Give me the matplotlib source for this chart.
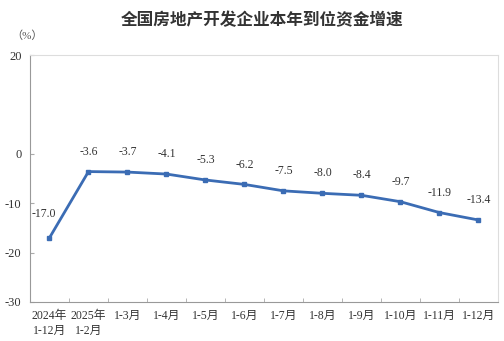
import matplotlib.pyplot as plt

plt.rcParams['font.family'] = ['Liberation Serif', 'Noto Sans CJK SC']

labels = ['2024年\n1-12月', '2025年\n1-2月', '1-3月', '1-4月', '1-5月', '1-6月',
          '1-7月', '1-8月', '1-9月', '1-10月', '1-11月', '1-12月']
values = [-17.0, -3.6, -3.7, -4.1, -5.3, -6.2, -7.5, -8.0, -8.4, -9.7, -11.9, -13.4]
yticks = [20, 0, -10, -20, -30]

fig = plt.figure(figsize=(5.04, 3.41), dpi=100)
ax = fig.add_axes([0.0595, 0.1144, 0.9285, 0.7243])

x = list(range(len(values)))
ax.plot(x, values, color='#3b6cb4', linewidth=2, marker='s', markersize=3.5)

for i, v in enumerate(values):
    dy = 10 if i > 0 else 13
    dx = -4 if i == 0 else 0
    ax.annotate(f'{v:.1f}', (i, v), xytext=(dx, dy), textcoords='offset points',
                ha='center', va='bottom', fontsize=8.5, color='#333333')

ax.set_xlim(-0.5, len(values) - 0.5)
ax.set_ylim(-30, 20)
ax.set_yticks(yticks)
ax.set_yticklabels([str(t) for t in yticks], fontsize=9, color='#333333')
ax.set_xticks(x)
ax.set_xticklabels(labels, fontsize=8.5, color='#333333', linespacing=1.3, va='top')
ax.set_xticks([i + 0.5 for i in range(-1, len(values))], minor=True)
ax.tick_params(axis='x', which='major', length=0, pad=6)
ax.tick_params(axis='x', which='minor', length=3, color='#aaaaaa', direction='in')
ax.tick_params(axis='y', length=3, color='#aaaaaa', direction='in', pad=6)

for s in ['left', 'bottom']:
    ax.spines[s].set_color('#999999')
for s in ['top', 'right']:
    ax.spines[s].set_color('#dddddd')

fig.text(0.52, 0.94, '全国房地产开发企业本年到位资金增速', ha='center', va='center',
         fontsize=12, fontweight='bold', color='#333333')
fig.text(0.053, 0.895, '（%）', ha='center', va='center', fontsize=8, color='#555555')

fig.savefig('out.png', dpi=100)
